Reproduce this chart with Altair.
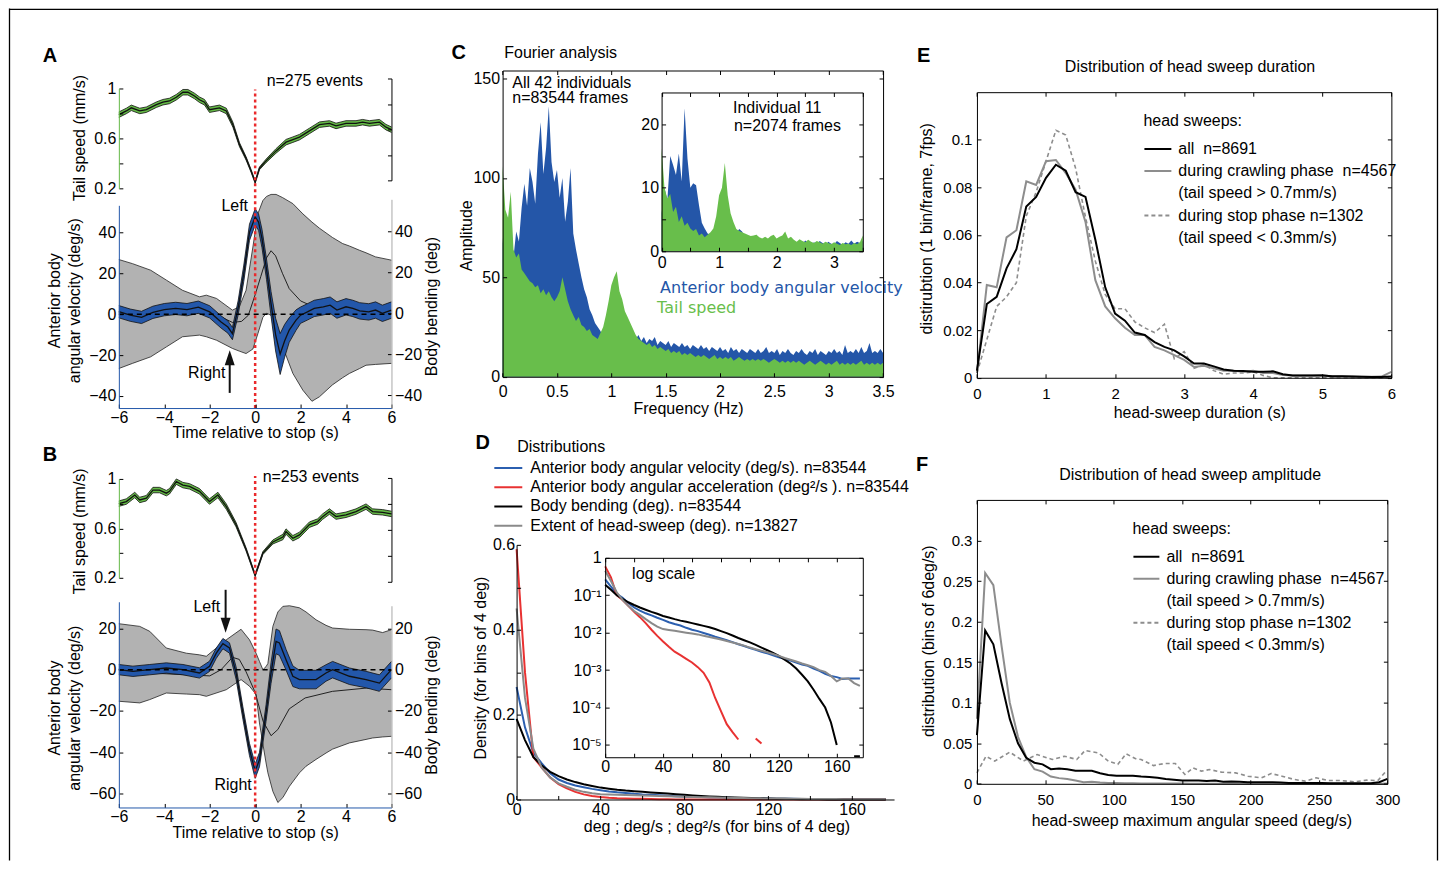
import altair as alt
import pandas as pd

# ============================ DATA ============================
# ---- Panel A : event-triggered averages, n = 275 events
A_TAIL_T = [-6.0, -5.67, -5.45, -5.08, -4.79, -4.35, -4.06, -3.77, -3.47, -3.18, -2.96, -2.67, -2.45,
            -2.23, -2.01, -1.57, -1.27, -0.98, -0.69, -0.40, -0.18, 0.0, 0.19, 0.48, 0.92, 1.36, 1.66,
            1.95, 2.39, 2.83, 3.27, 3.56, 4.0, 4.44, 4.73, 5.03, 5.47, 5.76, 6.0]
A_TAIL_V = [0.79, 0.82, 0.845, 0.82, 0.83, 0.87, 0.89, 0.90, 0.93, 0.97, 0.97, 0.94, 0.91, 0.89, 0.83,
            0.845, 0.82, 0.71, 0.55, 0.44, 0.34, 0.25, 0.36, 0.42, 0.50, 0.57, 0.59, 0.61, 0.66, 0.71,
            0.72, 0.70, 0.72, 0.72, 0.73, 0.72, 0.73, 0.69, 0.67]
A_TAIL_SEM = [0.022, 0.022, 0.022, 0.022, 0.022, 0.022, 0.022, 0.022, 0.022, 0.022, 0.022, 0.022, 0.022,
              0.022, 0.022, 0.022, 0.022, 0.02, 0.016, 0.013, 0.011, 0.01, 0.011, 0.014, 0.018, 0.022,
              0.022, 0.022, 0.022, 0.022, 0.022, 0.022, 0.022, 0.022, 0.022, 0.022, 0.022, 0.022, 0.022]
A_VEL_T = [-6, -5.5, -5, -4.5, -4, -3.5, -3, -2.5, -2, -1.5, -1.2, -1.0, -0.75, -0.5, -0.25, 0, 0.15, 0.3,
           0.5, 0.7, 0.9, 1.1, 1.3, 1.5, 1.8, 2.0, 2.3, 2.6, 3.0, 3.3, 3.6, 4.0, 4.3, 4.6, 5.0, 5.3, 5.6, 6.0]
A_VEL_V = [1.2, -0.5, -1.6, 0.9, 2.2, 2.8, 2.2, 3.4, 1.1, -3.8, -6.3, -9.5, 3, 20, 40, 47.5, 45, 37, 22,
           5, -10, -19.5, -13, -7.8, -2.9, -0.5, 1.1, 2.8, 3.6, 4.4, 2.0, 3.6, 2.8, 1.6, 1.1, 2.0, 0.4, 2.0]
A_VEL_SEM = [3, 3, 3, 3, 3, 3, 3, 3, 3, 3, 3, 3, 3.5, 4, 4, 4, 4, 4.5, 5, 6, 8, 10, 8, 6, 5, 4, 4, 4, 4,
             4, 4, 4, 4, 4, 4, 4, 4, 4]
A_BEND_T = [-6, -5.4, -4.6, -3.9, -3.2, -2.45, -2.15, -1.7, -1.0, -0.7, -0.4, -0.1, 0.12, 0.34, 0.5, 0.7,
            0.92, 1.2, 1.66, 2.1, 2.5, 2.83, 3.4, 3.85, 4.15, 4.6, 4.88, 5.3, 6.0]
A_BEND_HI = [26.2, 24.2, 21, 16.1, 11.2, 8, 8.8, 7.2, 1.5, 3.1, 11.2, 32.3, 48.6, 55, 57, 58, 58, 56.5,
             53.5, 48.5, 44.5, 41.5, 37, 34, 32.8, 30.7, 29.5, 27.5, 25.9]
A_BEND_LO = [-27, -24.5, -21.3, -16.4, -11.5, -10.7, -11.5, -13.2, -17.2, -18.5, -19.7, -17.5, -10, -2, 0,
             -1, -7, -16, -29.4, -37.6, -43, -40.8, -35, -31.5, -29.4, -27, -25.4, -25, -24.5]
A_BMEAN_T = [-6, -4.6, -3.0, -2.0, -1.5, -1.0, -0.6, -0.3, 0, 0.25, 0.5, 0.7, 0.9, 1.2, 1.5, 2.0, 2.5, 3.0,
             4.0, 5.0, 6.0]
A_BMEAN_V = [0.7, 0, 0.7, -0.5, -1.8, -4.5, -4, -1, 9, 18, 27, 30.5, 28, 19.5, 12, 6, 3.5, 2, 1, 0.7, 0.7]

# ---- Panel B : n = 253 events
B_TAIL_T = [-6.0, -5.67, -5.30, -5.08, -4.79, -4.50, -4.21, -3.91, -3.77, -3.47, -3.18, -2.89, -2.45,
            -2.01, -1.64, -1.27, -0.84, -0.40, 0.0, 0.34, 0.78, 1.22, 1.36, 1.66, 1.95, 2.39, 2.75, 2.97,
            3.27, 3.56, 4.0, 4.44, 4.88, 5.17, 5.61, 6.0]
B_TAIL_V = [0.80, 0.817, 0.87, 0.83, 0.844, 0.91, 0.91, 0.885, 0.90, 0.978, 0.95, 0.94, 0.90, 0.817, 0.87,
            0.776, 0.63, 0.43, 0.22, 0.40, 0.49, 0.53, 0.574, 0.52, 0.547, 0.63, 0.655, 0.695, 0.736,
            0.695, 0.71, 0.736, 0.776, 0.736, 0.73, 0.717]
B_TAIL_SEM = [0.022, 0.022, 0.022, 0.022, 0.022, 0.022, 0.022, 0.022, 0.022, 0.022, 0.022, 0.022, 0.022,
              0.022, 0.022, 0.022, 0.018, 0.013, 0.01, 0.012, 0.016, 0.022, 0.022, 0.022, 0.022, 0.022,
              0.022, 0.022, 0.022, 0.022, 0.022, 0.022, 0.022, 0.022, 0.022, 0.022]
B_VEL_T = [-6, -5.38, -4.64, -3.91, -3.18, -2.45, -2.01, -1.71, -1.42, -1.13, -0.84, -0.54, -0.25, 0, 0.19,
           0.48, 0.70, 0.92, 1.07, 1.36, 1.66, 1.95, 2.68, 3.12, 3.41, 4.15, 4.88, 5.47, 6.0]
B_VEL_V = [0, -0.8, 0, 0.8, 0, -1.6, 1.6, 8, 12.6, 10.5, -1.6, -21, -38.7, -49.2, -43.6, -21, -1.6, 13.7,
           12.9, 4.8, -3.2, -4.8, -4.8, -1.6, 0, -3.2, -4.8, -6.5, 0]
B_VEL_SEM = [2.5, 2.5, 2.5, 2.5, 2.5, 2.5, 2.5, 2.5, 2.5, 2.5, 3, 3, 3, 3.5, 3.5, 4, 5, 6, 6, 5, 5, 4.5,
             4.5, 4, 4, 4, 4, 4, 4]
B_BEND_T = [-6, -5.08, -4.64, -3.91, -3.03, -2.45, -2.15, -1.27, -0.62, -0.25, 0.04, 0.19, 0.34, 0.48,
            0.56, 0.78, 1.0, 1.22, 1.51, 1.95, 2.24, 2.68, 3.12, 3.41, 4.15, 4.88, 5.17, 5.61, 6.0]
B_BEND_HI = [22.3, 21, 18.6, 10.5, 8, 7.2, 6.5, 14.5, 19.6, 14.5, 8, 4, 0, 1.5, 3, 21, 28, 30.7, 31, 30,
             28, 24.2, 21.5, 20.2, 19.6, 19.4, 19.2, 18, 19.4]
B_BEND_LO = [-15.3, -16.1, -14.5, -11.3, -11.8, -12.1, -12.9, -9.7, -4.8, -8, -12, -25.8, -36, -45.2, -50,
             -59, -64.4, -62, -56.5, -50, -46.8, -43.5, -40.4, -38.5, -35.5, -33.8, -33.1, -32.6, -32.3]
B_BMEAN_T = [-6, -4.6, -3.0, -2.0, -1.5, -1.0, -0.7, -0.4, 0, 0.35, 0.7, 1.0, 1.5, 2.2, 3.4, 4.9, 6.0]
B_BMEAN_V = [0.3, -1.6, -2.5, -3, 0, 6, 5, -1, -11, -25, -32, -29, -19, -13.7, -10.5, -8.9, -9.7]

# ---- Panel C : Fourier amplitude, all individuals (0.025 Hz samples, 0..3.5 Hz)
C_BLUE = [70, 48, 42, 55, 60, 73, 68, 85, 97, 86, 105, 98, 87, 112, 128, 102, 115, 136, 108, 98,
          104, 90, 100, 78, 88, 105, 72, 64, 57, 50, 44, 40, 34, 31, 27, 25, 23, 20, 19, 21,
          22, 24, 22, 23, 21, 22, 20, 21, 22, 19, 21, 18, 20, 17, 19, 18, 20, 16, 18, 17,
          16, 18, 15, 17, 16, 15, 17, 15, 16, 14, 16, 15, 14, 16, 14, 15, 13, 15, 14, 13,
          15, 13, 14, 12, 15, 13, 14, 12, 14, 13, 12, 14, 13, 12, 14, 12, 13, 15, 12, 13,
          12, 14, 11, 13, 12, 14, 12, 11, 13, 12, 14, 12, 11, 13, 12, 14, 11, 13, 12, 11,
          13, 12, 14, 12, 13, 11, 16, 12, 13, 12, 14, 12, 15, 12, 13, 17, 12, 13, 12, 14, 12]
C_GREEN = [106, 84, 80, 93, 64, 60, 62, 54, 52, 50, 48, 47, 45, 46, 42, 44, 41, 43, 40, 38,
           40, 43, 50, 44, 38, 34, 31, 28, 30, 26, 25, 23, 24, 21, 20, 19, 22, 25, 31, 38,
           46, 50, 53, 43, 39, 33, 30, 27, 24, 21, 19, 18, 17, 16, 17, 15, 16, 14, 15, 14,
           13, 14, 12, 13, 12, 13, 11, 12, 11, 12, 11, 10, 11, 10, 11, 10, 9, 10, 11, 9,
           10, 9, 10, 9, 10, 8, 9, 10, 9, 8, 9, 8, 9, 8, 9, 8, 9, 8, 7, 8,
           9, 8, 7, 8, 7, 8, 7, 8, 7, 8, 7, 6, 7, 8, 7, 6, 7, 8, 7, 6,
           7, 6, 7, 8, 6, 7, 6, 7, 6, 7, 6, 7, 8, 6, 7, 6, 7, 6, 7, 6, 7]
# inset: individual 11 (0.05 Hz samples)
CI_BLUE = [6, 10, 8, 15, 13.6, 12, 15.4, 11, 22.5, 14.6, 10, 10.7, 10.4, 7.3, 4.5, 3.6, 2.8, 2.6, 2.0, 1.5,
           1.8, 2.1, 1.6, 2.0, 3.0, 4.4, 2.8, 3.5, 3.1, 2.2, 2.5, 2.0, 2.3, 2.6, 1.8, 1.5, 1.9, 1.6, 1.3, 2.2,
           1.5, 1.2, 1.8, 1.4, 1.1, 1.6, 1.3, 1.0, 1.5, 1.2, 1.7, 1.3, 1.0, 1.4, 1.1, 1.6, 1.3, 1.0, 1.5, 1.2,
           1.1, 1.6, 1.3, 1.0, 1.4, 1.2, 1.7, 1.2, 1.5, 1.3, 1.6]
CI_GREEN = [16.2, 10, 8.3, 9, 6.2, 7, 4.6, 5.5, 4, 4.5, 3.6, 3.2, 3.5, 2.5, 2.8, 2.2, 2.6, 3.0, 3.6, 5.5,
            8.8, 10, 13.9, 8.8, 6, 4.6, 3.5, 3.2, 3.0, 2.8, 2.6, 2.4, 2.5, 2.6, 2.2, 2.0, 2.3, 2.0, 2.4, 2.6,
            2.0, 2.3, 2.5, 3.1, 2.0, 2.3, 1.8, 1.5, 1.9, 1.6, 1.4, 1.8, 1.5, 1.3, 1.6, 1.4, 1.2, 1.5, 1.3, 1.1,
            1.4, 1.2, 1.0, 1.3, 1.1, 1.2, 1.0, 1.3, 1.1, 1.4, 2.5]

# ---- Panel D : densities, bins of 4 (x = 0, 4, ..., 176)
D_LABELS = ["Anterior body angular velocity (deg/s). n=83544",
            "Anterior body angular acceleration (deg²/s ). n=83544",
            "Body bending (deg). n=83544",
            "Extent of head-sweep (deg). n=13827"]
D_VEL = [0.265, 0.17, 0.11, 0.085, 0.062, 0.047, 0.039, 0.033, 0.029, 0.025, 0.022, 0.019, 0.017, 0.0155,
         0.0135, 0.012, 0.011, 0.0098, 0.0088, 0.0078, 0.007, 0.0063, 0.0056, 0.0049, 0.0044, 0.0039, 0.0035,
         0.0031, 0.0028, 0.0025, 0.0022, 0.002, 0.0018, 0.0016, 0.0014, 0.0013, 0.0011, 0.00095, 0.0008,
         0.0007, 0.00065, 0.00058, 0.0006, 0.0006, 0.0006]
D_ACC = [0.59, 0.30, 0.10, 0.075, 0.052, 0.036, 0.026, 0.018, 0.012, 0.0082, 0.0058, 0.0042, 0.0031, 0.0025,
         0.002, 0.0016, 0.0012, 0.00085, 0.00047, 0.00018, 0.00008, 0.000036, 0.000022, 0.000014, 0, 0,
         0.000015, 0.000011, 0, 0, 0, 0, 0, 0, 0, 0, 0, 0, 0, 0, 0, 0, 0, 0, 0]
D_BEND = [0.19, 0.14, 0.10, 0.08, 0.065, 0.055, 0.047, 0.041, 0.036, 0.032, 0.028, 0.0255, 0.023, 0.021,
          0.0195, 0.018, 0.0165, 0.0152, 0.014, 0.0125, 0.011, 0.0097, 0.0084, 0.0072, 0.0063, 0.0055, 0.0047,
          0.004, 0.0034, 0.0029, 0.0024, 0.0019, 0.0015, 0.0011, 0.00075, 0.0005, 0.0003, 0.00017, 0.0001,
          0.00004, 0.00001, 0, 0, 0.000005, 0.000005]
D_EXT = [0.45, 0.24, 0.12, 0.075, 0.052, 0.038, 0.03, 0.023, 0.018, 0.0145, 0.0125, 0.0118, 0.0112, 0.0106,
         0.01, 0.0095, 0.009, 0.0083, 0.0077, 0.0071, 0.0066, 0.006, 0.0055, 0.005, 0.0045, 0.004, 0.0036,
         0.0033, 0.003, 0.0027, 0.0024, 0.0021, 0.0019, 0.0017, 0.0015, 0.00135, 0.0012, 0.001, 0.0009,
         0.0007, 0.0005, 0.0006, 0.0006, 0.00045, 0.00038]

# ---- Panel E : head-sweep duration, 1 bin per frame (7 fps)
E_ALL = [0.003, 0.031, 0.034, 0.046, 0.054, 0.072, 0.076, 0.084, 0.0895, 0.087, 0.078, 0.076, 0.058, 0.038,
         0.027, 0.024, 0.019, 0.018, 0.015, 0.013, 0.0115, 0.009, 0.006, 0.006, 0.0048, 0.0035, 0.003, 0.0028,
         0.0025, 0.0025, 0.0027, 0.0015, 0.001, 0.001, 0.001, 0.001, 0.0006, 0.0006, 0.0005, 0.0004, 0.0003,
         0.0003, 0.0005]
E_CRAWL = [0.002, 0.039, 0.038, 0.059, 0.062, 0.0825, 0.081, 0.091, 0.0915, 0.086, 0.079, 0.0655, 0.041,
           0.030, 0.025, 0.021, 0.018, 0.018, 0.013, 0.0115, 0.0095, 0.0075, 0.0045, 0.005, 0.004, 0.003,
           0.003, 0.0025, 0.003, 0.002, 0.002, 0.0012, 0.001, 0.001, 0.001, 0.0012, 0.0005, 0.0005, 0.0005,
           0.0004, 0.0004, 0.0005, 0.0025]
E_STOP = [0.002, 0.016, 0.030, 0.034, 0.040, 0.068, 0.078, 0.091, 0.104, 0.102, 0.088, 0.0675, 0.049, 0.035,
          0.029, 0.029, 0.0235, 0.021, 0.019, 0.0225, 0.008, 0.011, 0.004, 0.0055, 0.003, 0.0015, 0.002,
          0.002, 0.0025, 0.001, 0, 0, 0, 0, 0, 0, 0, 0, 0, 0, 0, 0, 0]

# ---- Panel F : head-sweep maximum angular speed, bins of 6 deg/s
F_ALL = [0.06, 0.189, 0.172, 0.124, 0.08, 0.05, 0.032, 0.026, 0.024, 0.018, 0.019, 0.018, 0.016, 0.016,
         0.016, 0.013, 0.011, 0.010, 0.010, 0.010, 0.009, 0.0085, 0.0075, 0.006, 0.005, 0.004, 0.004, 0.004,
         0.0035, 0.004, 0.0025, 0.003, 0.0025, 0.002, 0.002, 0.002, 0.002, 0.0015, 0.001, 0.001, 0.001, 0.001,
         0.001, 0.0008, 0.0008, 0.0008, 0.0008, 0.0008, 0.0008, 0.002, 0.006]
F_CRAWL = [0.08, 0.26, 0.245, 0.17, 0.10, 0.058, 0.033, 0.018, 0.015, 0.009, 0.007, 0.006, 0.004, 0.002,
           0.0025, 0.0015, 0.001, 0.001, 0.0008, 0.0006, 0.0005, 0.0004, 0.0004, 0.0003, 0.0003, 0.0003,
           0.0002, 0.0002, 0.0002, 0.0002, 0.0002, 0.0002, 0.0001, 0.0001, 0.0001, 0.0001, 0.0001, 0.0001,
           0.0001, 0.0001, 0.0001, 0.0001, 0.0001, 0.0001, 0.0001, 0.0001, 0.0001, 0.0001, 0.0001, 0.0001,
           0.0003]
F_STOP_X = [0, 6.6, 13, 24, 34, 44, 55, 64, 73, 79, 89, 96, 103, 109, 116, 120, 129, 137, 145, 152, 158,
            164, 170, 179, 189, 198, 208, 215, 223, 232, 240, 248, 257, 266, 276, 285, 293, 299]
F_STOP_Y = [0.0135, 0.034, 0.028, 0.039, 0.028, 0.036, 0.030, 0.034, 0.030, 0.041, 0.038, 0.028, 0.024,
            0.037, 0.031, 0.030, 0.0225, 0.025, 0.025, 0.0115, 0.0197, 0.0156, 0.0176, 0.0143, 0.0135,
            0.0094, 0.0074, 0.0127, 0.0094, 0.0053, 0.0033, 0.0074, 0.004, 0.004, 0.0025, 0.0045, 0.004,
            0.0156]
NB = "\u00a0"
HS_LABELS = ["all" + NB + " n=8691", "during crawling phase" + NB + " n=4567", "(tail speed > 0.7mm/s)",
             "during stop phase n=1302", "(tail speed < 0.3mm/s)"]

assert len(A_TAIL_T) == len(A_TAIL_V) == len(A_TAIL_SEM)
assert len(A_VEL_T) == len(A_VEL_V) == len(A_VEL_SEM)
assert len(A_BEND_T) == len(A_BEND_HI) == len(A_BEND_LO)
assert len(A_BMEAN_T) == len(A_BMEAN_V)
assert len(B_TAIL_T) == len(B_TAIL_V) == len(B_TAIL_SEM)
assert len(B_VEL_T) == len(B_VEL_V) == len(B_VEL_SEM)
assert len(B_BEND_T) == len(B_BEND_HI) == len(B_BEND_LO)
assert len(B_BMEAN_T) == len(B_BMEAN_V)
assert len(C_BLUE) == len(C_GREEN) == 141
assert len(CI_BLUE) == len(CI_GREEN) == 71
assert len(D_VEL) == len(D_ACC) == len(D_BEND) == len(D_EXT) == 45
assert len(E_ALL) == len(E_CRAWL) == len(E_STOP) == 43
assert len(F_ALL) == len(F_CRAWL) == 51
assert len(F_STOP_X) == len(F_STOP_Y)

# sample positions (bin centres)
C_F = [round(i * 0.025, 3) for i in range(len(C_BLUE))]
CI_F = [round(i * 0.05, 3) for i in range(len(CI_BLUE))]
D_X = [4 * i for i in range(len(D_VEL))]
E_X = [k / 7 for k in range(len(E_ALL))]
F_X = [6 * i for i in range(len(F_ALL))]

# ============================ STYLE / LAYOUT ============================
FONT = "Liberation Sans"
FS = 16
TICK = 4
W, H = 1433, 853
M = 8  # page margin
NUMFMT = ".12~g"

BLUE = "#2357aa"
GREEN = "#64b946"
GREY_FILL = "#b2b2b2"
GREY_AX = "#a8a8a8"
RED = "#ea2a2c"
C_BLUE_COL = "#2456a8"
C_GREEN_COL = "#68be4b"
D_COLORS = ["#2b5fb0", "#e83232", "#000000", "#8a8a8a"]
EF_GREY = "#8d8d8d"


def cx(v):
    return v - M


# page-pixel geometry of every axes box
GEOM = {
    "A_top": dict(xd=[-6, 6], xr=[119, 392], yd=[0.2, 1.0], yr=[188, 88]),
    "A_top_r": dict(xd=[-6, 6], xr=[119, 392], yd=[0, 1], yr=[180, 78]),
    "A_bot": dict(xd=[-6, 6], xr=[119, 392], yd=[-45.9, 53.2], yr=[408, 205]),
    "A_bot_r": dict(xd=[-6, 6], xr=[119, 392], yd=[-46.3, 55.6], yr=[408, 199]),
    "B_top": dict(xd=[-6, 6], xr=[119, 392], yd=[0.2, 1.0], yr=[578, 479]),
    "B_top_r": dict(xd=[-6, 6], xr=[119, 392], yd=[0, 1], yr=[582, 478]),
    "B_bot": dict(xd=[-6, 6], xr=[119, 392], yd=[-66.8, 32.9], yr=[808, 602]),
    "B_bot_r": dict(xd=[-6, 6], xr=[119, 392], yd=[-66.8, 31.0], yr=[808, 606]),
    "C": dict(xd=[0, 3.5], xr=[503.3, 884.3], yd=[0, 154], yr=[376.7, 70]),
    "Ci": dict(xd=[0, 3.5], xr=[662.5, 864], yd=[0, 25], yr=[251, 92]),
    "D": dict(xd=[0, 180], xr=[517.3, 895.3], yd=[0, 0.6], yr=[800, 545]),
    "Di": dict(xd=[0, 178], xr=[606, 864], yd=[4.7e-6, 1], yr=[757.7, 558], log=True),
    "E": dict(xd=[0, 6], xr=[978.3, 1393.3], yd=[0, 0.12], yr=[377.7, 91.7]),
    "F": dict(xd=[0, 300], xr=[978.3, 1389.3], yd=[0, 0.35], yr=[784.3, 500]),
}


def xsc(p):
    g = GEOM[p]
    return alt.Scale(domain=g["xd"], range=[cx(g["xr"][0]), cx(g["xr"][1])], nice=False, zero=False)


def ysc(p):
    g = GEOM[p]
    if g.get("log"):
        return alt.Scale(type="log", domain=g["yd"], range=[cx(g["yr"][0]), cx(g["yr"][1])], nice=False)
    return alt.Scale(domain=g["yd"], range=[cx(g["yr"][0]), cx(g["yr"][1])], nice=False, zero=False)


def val_at(p, page_y):
    g = GEOM[p]
    (d0, d1), (r0, r1) = g["yd"], g["yr"]
    return d0 + (page_y - r0) / (r1 - r0) * (d1 - d0)


ONE = alt.Data(values=[{"k": 0}])


def qx(field, p):
    return alt.X(field, type="quantitative", scale=xsc(p), axis=None)


def qy(field, p):
    return alt.Y(field, type="quantitative", scale=ysc(p), axis=None)


def axis(orient, at, values, kind="ticks", color="#000", **kw):
    c = cx(at)
    off = {"bottom": c - H, "top": -c, "left": -c, "right": c - W}[orient]
    d = dict(orient=orient, offset=off, values=values, grid=False, zindex=3,
             labelFlush=False, labelOverlap=False, title=None)
    if kind == "labels":
        d.update(labels=True, ticks=False, domain=False, tickSize=0, format=NUMFMT)
    else:
        d.update(labels=False, ticks=True, domain=True, tickSize=TICK, tickWidth=1,
                 tickColor="#000", domainColor=color, domainWidth=1)
    d.update(kw)
    return alt.Axis(**d)


def carrier(xp=None, xaxis=None, yp=None, yaxis=None):
    enc = {}
    if xaxis is not None:
        enc["x"] = alt.XDatum(GEOM[xp]["xd"][0], type="quantitative", scale=xsc(xp), axis=xaxis)
    if yaxis is not None:
        enc["y"] = alt.YDatum(GEOM[yp]["yd"][0], type="quantitative", scale=ysc(yp), axis=yaxis)
    return alt.Chart(ONE).mark_point(opacity=0).encode(**enc)


def frame(p, xlab, xtick, ylab, ytick, xkw=None, ykw=None, box=True):
    g = GEOM[p]
    (xl, xr), (yb, yt) = g["xr"], g["yr"]
    out = [carrier(p, axis("bottom", yb, xlab, "labels", **(xkw or {})),
                   p, axis("left", xl, ylab, "labels", **(ykw or {}))),
           carrier(p, axis("top", yb, xtick), p, axis("right", xl, ytick))]
    if box:
        out.append(carrier(p, axis("bottom", yt, xtick), p, axis("left", xr, ytick)))
    return out


def note(p, xv, yv, text, size=FS, color="#000", align="left", font=FONT, weight="normal"):
    return alt.Chart(ONE).mark_text(text=text, font=font, fontSize=size, color=color, align=align,
                                    baseline="middle", fontWeight=weight).encode(
        x=alt.XDatum(xv, type="quantitative", scale=xsc(p), axis=None),
        y=alt.YDatum(yv, type="quantitative", scale=ysc(p), axis=None))


def band(t, m, s, p, fill):
    df = pd.DataFrame({"t": t, "m": m, "lo": [a - b for a, b in zip(m, s)], "hi": [a + b for a, b in zip(m, s)]})
    out = [alt.Chart(df).mark_area(color=fill, opacity=1).encode(x=qx("t", p), y=qy("lo", p), y2="hi")]
    for f, w in (("lo", 0.8), ("hi", 0.8), ("m", 1.3)):
        out.append(alt.Chart(df).mark_line(color="#111", strokeWidth=w).encode(x=qx("t", p), y=qy(f, p)))
    return out


def stop_panel(k, tail, vel, bend, bmean, ylab, n_label, n_at, letter_at, words, arrow, red_top, tt):
    top, top_r, bot, bot_r = k + "_top", k + "_top_r", k + "_bot", k + "_bot_r"
    L = []
    L += band(*tail, top, GREEN)
    b_t, b_lo, b_hi = bend
    bdf = pd.DataFrame({"t": b_t, "lo": b_lo, "hi": b_hi})
    L.append(alt.Chart(bdf).mark_area(color=GREY_FILL, opacity=1).encode(x=qx("t", bot_r), y=qy("lo", bot_r), y2="hi"))
    for f in ("lo", "hi"):
        L.append(alt.Chart(bdf).mark_line(color="#222", strokeWidth=0.8).encode(x=qx("t", bot_r), y=qy(f, bot_r)))
    mdf = pd.DataFrame({"t": bmean[0], "m": bmean[1]})
    L.append(alt.Chart(mdf).mark_line(color="#111", strokeWidth=0.9).encode(x=qx("t", bot_r), y=qy("m", bot_r)))
    L += band(*vel, bot, BLUE)
    L.append(alt.Chart(ONE).mark_rule(color="#000", strokeWidth=1.5, strokeDash=[5, 4]).encode(
        x=alt.XDatum(-6, type="quantitative", scale=xsc(bot), axis=None), x2=alt.X2Datum(6),
        y=alt.YDatum(0, type="quantitative", scale=ysc(bot), axis=None)))
    L.append(alt.Chart(ONE).mark_rule(color=RED, strokeWidth=2.5, strokeDash=[3, 3]).encode(
        x=alt.XDatum(0, type="quantitative", scale=xsc(bot), axis=None),
        y=alt.YDatum(GEOM[bot]["yd"][0], type="quantitative", scale=ysc(bot), axis=None),
        y2=alt.Y2Datum(val_at(bot, red_top))))
    at, v_tail, v_end, v_tip, shape = arrow
    L.append(alt.Chart(ONE).mark_rule(color="#111", strokeWidth=2).encode(
        x=alt.XDatum(at, type="quantitative", scale=xsc(bot), axis=None),
        y=alt.YDatum(v_tail, type="quantitative", scale=ysc(bot), axis=None), y2=alt.Y2Datum(v_end)))
    L.append(alt.Chart(ONE).mark_point(shape=shape, filled=True, size=400, color="#111", opacity=1).encode(
        x=alt.XDatum(at, type="quantitative", scale=xsc(bot), axis=None),
        y=alt.YDatum(v_tip, type="quantitative", scale=ysc(bot), axis=None)))
    for text, tx, ty in words:
        L.append(note(bot, tx, ty, text, align="center"))
    L.append(note(top, n_at[0], n_at[1], n_label))
    L.append(note(top, letter_at[0], letter_at[1], k, size=20, weight="bold", align="center"))
    xl, xr = GEOM[bot]["xr"]
    ybot = GEOM[bot]["yr"][0]
    # tail-speed axes
    L.append(carrier(yp=top, yaxis=axis("left", xl, [0.2, 0.6, 1.0], "labels", labelPadding=3,
                                         title="Tail speed (mm/s)", titleX=tt["tail"][0] - xl,
                                         titleY=cx(tt["tail"][1]))))
    L.append(carrier(yp=top, yaxis=axis("right", xl, [0.2, 0.4, 0.6, 0.8, 1.0], color=GREEN)))
    L.append(carrier(yp=top_r, yaxis=axis("left", xr, [0, 0.25, 0.5, 0.75, 1])))
    # velocity / bending axes
    xt = [-6, -4, -2, 0, 2, 4, 6]
    L.append(carrier(bot, axis("bottom", ybot, xt, "labels", labelPadding=1, title="Time relative to stop (s)",
                               titleX=cx(tt["time"][0]), titleY=tt["time"][1] - ybot),
                     bot, axis("left", xl, ylab, "labels", labelPadding=3,
                               title=["Anterior body", "angular velocity (deg/s)"],
                               titleX=tt["vel"][0] - xl, titleY=cx(tt["vel"][1]), titleLineHeight=20)))
    L.append(carrier(bot, axis("top", ybot, xt, color=BLUE), bot, axis("right", xl, ylab, color=BLUE)))
    L.append(carrier(yp=bot_r, yaxis=axis("right", xr, ylab, "labels", labelPadding=3, title="Body bending (deg)",
                                           titleAngle=270, titleX=tt["bend"][0] - xr, titleY=cx(tt["bend"][1]))))
    L.append(carrier(yp=bot_r, yaxis=axis("left", xr, ylab, color=GREY_AX)))
    return L


UP = "M0,0L-0.5,1.5L0.5,1.5Z"
DOWN = "M0,0L-0.5,-1.5L0.5,-1.5Z"

layers = []
# ---- A
layers += stop_panel(
    "A", (A_TAIL_T, A_TAIL_V, A_TAIL_SEM), (A_VEL_T, A_VEL_V, A_VEL_SEM), (A_BEND_T, A_BEND_LO, A_BEND_HI),
    (A_BMEAN_T, A_BMEAN_V), [-40, -20, 0, 20, 40], "n=275 events", (0.505, 1.056), (-9.03, 1.264),
    [("Left", -0.9, 52.7), ("Right", -2.13, -28.8)], (-1.12, -38.5, -22, -17.6, UP), 89,
    dict(tail=(80, 137), vel=(55, 300), bend=(432, 306), time=(255.5, 433)))
# ---- B
layers += stop_panel(
    "B", (B_TAIL_T, B_TAIL_V, B_TAIL_SEM), (B_VEL_T, B_VEL_V, B_VEL_SEM), (B_BEND_T, B_BEND_LO, B_BEND_HI),
    (B_BMEAN_T, B_BMEAN_V), [-60, -40, -20, 0, 20], "n=253 events", (0.33, 1.016), (-9.03, 1.194),
    [("Left", -2.13, 30.5), ("Right", -0.97, -55.7)], (-1.3, 38.7, 21, 17.9, DOWN), 476,
    dict(tail=(80, 531), vel=(55, 708), bend=(432, 705), time=(255.5, 833)))

# ---- C
cdf = pd.DataFrame({"f": C_F, "b": C_BLUE, "g": C_GREEN})
layers.append(alt.Chart(cdf).mark_area(color=C_BLUE_COL, opacity=1).encode(x=qx("f", "C"), y=qy("b", "C")))
layers.append(alt.Chart(cdf).mark_area(color=C_GREEN_COL, opacity=1).encode(x=qx("f", "C"), y=qy("g", "C")))
cidf = pd.DataFrame({"f": CI_F, "b": CI_BLUE, "g": CI_GREEN})
layers.append(alt.Chart(cidf).mark_area(color=C_BLUE_COL, opacity=1).encode(x=qx("f", "Ci"), y=qy("b", "Ci")))
layers.append(alt.Chart(cidf).mark_area(color=C_GREEN_COL, opacity=1).encode(x=qx("f", "Ci"), y=qy("g", "Ci")))
halves = [0, 0.5, 1, 1.5, 2, 2.5, 3, 3.5]
layers += frame("C", halves, halves, [0, 50, 100, 150], [0, 50, 100, 150],
                xkw=dict(labelPadding=7, title="Frequency (Hz)", titleX=cx(689), titleY=32),
                ykw=dict(labelPadding=3, title="Amplitude", titleX=467 - 503.3, titleY=cx(235)))
layers += frame("Ci", [0, 1, 2, 3], halves, [0, 10, 20], [0, 5, 10, 15, 20],
                xkw=dict(labelPadding=3), ykw=dict(labelPadding=3))
layers += [
    note("C", -0.404, 163, "C", size=20, weight="bold", align="center"),
    note("C", 0.016, 162.9, "Fourier analysis"),
    note("C", 0.089, 147.9, "All 42 individuals"),
    note("C", 0.089, 140.4, "n=83544 frames"),
    note("C", 1.449, 44.5, "Anterior body angular velocity", color=C_BLUE_COL, font="DejaVu Sans"),
    note("C", 1.421, 34.5, "Tail speed", color=C_GREEN_COL, font="DejaVu Sans"),
    note("Ci", 1.242, 22.48, "Individual 11"),
    note("Ci", 1.259, 19.65, "n=2074 frames"),
]

# ---- D
rows = []
for name, vals in zip(D_LABELS, [D_VEL, D_ACC, D_BEND, D_EXT]):
    seg, prev = 0, False
    for x, v in zip(D_X, vals):
        pos = v > 0
        if pos and not prev:
            seg += 1
        prev = pos
        rows.append({"x": x, "y": v, "s": name, "seg": f"{name}-{seg}", "pos": pos})
ddf = pd.DataFrame(rows)
dscale = alt.Scale(domain=D_LABELS, range=D_COLORS)
dleg = alt.Legend(orient="none", legendX=cx(494), legendY=cx(458.5), title=None, labelFont=FONT,
                  labelFontSize=FS, labelColor="#000", labelLimit=1000, labelOffset=7, symbolType="stroke",
                  symbolSize=784, symbolStrokeWidth=2, clipHeight=19, rowPadding=0.3, padding=0)
layers.append(alt.Chart(ddf).mark_line(strokeWidth=2).encode(
    x=qx("x", "D"), y=qy("y", "D"), color=alt.Color("s:N", scale=dscale, legend=dleg)))
layers.append(alt.Chart(ddf[ddf["pos"]]).mark_line(strokeWidth=2).encode(
    x=qx("x", "Di"), y=qy("y", "Di"), color=alt.Color("s:N", scale=dscale, legend=None), detail="seg:N"))
LOG_EXPR = ("datum.value > 0.5 ? '1' : datum.value > 0.05 ? '10⁻¹' : datum.value > 0.005 ? '10⁻²' : "
            "datum.value > 0.0005 ? '10⁻³' : datum.value > 0.00005 ? '10⁻⁴' : '10⁻⁵'")
decades = [1e-5, 1e-4, 1e-3, 1e-2, 1e-1, 1]
layers += frame("D", [0, 40, 80, 120, 160], [0, 20, 40, 60, 80, 100, 120, 140, 160],
                [0, 0.2, 0.4, 0.6], [0, 0.1, 0.2, 0.3, 0.4, 0.5, 0.6], box=False,
                xkw=dict(labelPadding=2, title="deg ; deg/s ; deg²/s  (for bins of 4 deg)",
                         titleX=cx(717.5), titleY=27),
                ykw=dict(labelPadding=2, title="Density (for bins of 4 deg)", titleX=481 - 517.3,
                         titleY=cx(668)))
layers += frame("Di", [0, 40, 80, 120, 160], [0, 20, 40, 60, 80, 100, 120, 140, 160], decades, decades,
                xkw=dict(labelPadding=1), ykw=dict(labelPadding=4, labelExpr=LOG_EXPR))
layers += [
    note("D", -16.2, 0.839, "D", size=20, weight="bold", align="center"),
    note("D", 0.33, 0.8306, "Distributions"),
    note("Di", 18.6, 0.3745, "log scale"),
]


# ---- E and F
def dist_panel(p, xs, all_v, crawl_v, stop_x, stop_v, leg_at, sym, tpad, rpad):
    L = []
    leg = alt.Legend(orient="none", legendX=cx(leg_at[0]), legendY=cx(leg_at[1]), title="head sweeps:",
                     titleFont=FONT, titleFontSize=FS, titleFontWeight="normal", titleColor="#000",
                     titlePadding=tpad, labelFont=FONT, labelFontSize=FS, labelColor="#000", labelLimit=1000,
                     labelOffset=6, symbolType="stroke", symbolSize=sym, symbolStrokeWidth=2, clipHeight=19,
                     rowPadding=rpad, padding=0)
    sdf = pd.DataFrame({"x": stop_x, "y": stop_v, "s": HS_LABELS[3]})
    col = alt.Color("s:N", scale=alt.Scale(domain=HS_LABELS, range=["#000", EF_GREY, "transparent", EF_GREY,
                                                                     "transparent"]), legend=leg)
    dash = alt.StrokeDash("s:N", scale=alt.Scale(domain=HS_LABELS,
                                                  range=[[1, 0], [1, 0], [1, 0], [4, 3], [1, 0]]), legend=leg)
    L.append(alt.Chart(sdf).mark_line(strokeWidth=1.6).encode(x=qx("x", p), y=qy("y", p), color=col,
                                                               strokeDash=dash))
    cdf_ = pd.DataFrame({"x": xs, "y": crawl_v})
    L.append(alt.Chart(cdf_).mark_line(strokeWidth=2, color=EF_GREY).encode(x=qx("x", p), y=qy("y", p)))
    adf = pd.DataFrame({"x": xs, "y": all_v})
    L.append(alt.Chart(adf).mark_line(strokeWidth=2, color="#000").encode(x=qx("x", p), y=qy("y", p)))
    return L


layers += dist_panel("E", E_X, E_ALL, E_CRAWL, E_X, E_STOP, (1145, 113), 729, 10, 3.25)
layers += frame("E", [0, 1, 2, 3, 4, 5, 6], [0, 1, 2, 3, 4, 5, 6], [0, 0.02, 0.04, 0.06, 0.08, 0.1],
                [0, 0.02, 0.04, 0.06, 0.08, 0.1],
                xkw=dict(labelPadding=9, labelFontSize=15, title="head-sweep duration (s)", titleX=cx(1201),
                         titleY=35),
                ykw=dict(labelPadding=5, labelFontSize=15, title="distirubtion (1 bin/frame, 7fps)",
                         titleX=928 - 978.3, titleY=cx(228)))
layers += [note("E", -0.77, 0.1354, "E", size=20, weight="bold", align="center"),
           note("E", 3.085, 0.1305, "Distribution of head sweep duration", align="center")]

layers += dist_panel("F", F_X, F_ALL, F_CRAWL, F_STOP_X, F_STOP_Y, (1134, 521), 676, 10.5, 3)
fx = [0, 50, 100, 150, 200, 250, 300]
fy = [0, 0.05, 0.1, 0.15, 0.2, 0.25, 0.3]
layers += frame("F", fx, fx, fy, fy,
                xkw=dict(labelPadding=9, labelFontSize=15, title="head-sweep maximum angular speed (deg/s)",
                         titleX=cx(1193), titleY=36.7),
                ykw=dict(labelPadding=5, labelFontSize=15, title="distribution (bins of 6deg/s)",
                         titleX=930 - 978.3, titleY=cx(641)))
layers += [note("F", -40.1, 0.3927, "F", size=20, weight="bold", align="center"),
           note("F", 155.8, 0.3804, "Distribution of head sweep amplitude", align="center")]

# ---- outer frame of the figure
layers += [
    alt.Chart(ONE).mark_rule(color="#000", strokeWidth=1.3).encode(x=alt.value(1.5), y=alt.value(0), y2=alt.value(H)),
    alt.Chart(ONE).mark_rule(color="#000", strokeWidth=1.3).encode(x=alt.value(1.5), x2=alt.value(1431.5), y=alt.value(0.7)),
    alt.Chart(ONE).mark_rule(color="#000", strokeWidth=1.3).encode(x=alt.value(1431.5), y=alt.value(0), y2=alt.value(H)),
]

chart = alt.layer(*layers).resolve_scale(
    x="independent", y="independent", color="independent", strokeDash="independent"
).properties(
    width=W, height=H, autosize=alt.AutoSizeParams(type="none"), padding=0, background="white"
).configure_view(stroke=None).configure_axis(
    labelFont=FONT, labelFontSize=FS, labelColor="#000", titleFont=FONT, titleFontSize=FS,
    titleFontWeight="normal", titleColor="#000", titleAlign="center", titleBaseline="middle"
)

chart.save("out.html", embed_options={"renderer": "svg", "actions": False})
